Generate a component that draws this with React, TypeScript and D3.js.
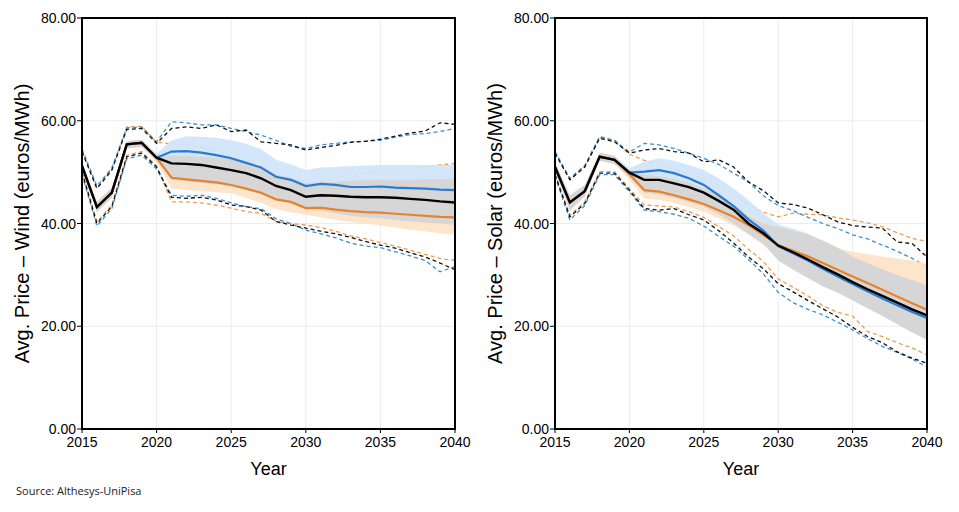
import React from "react";
import * as d3 from "d3";

// Years on the x axis (annual points)
const years = [
  2015, 2016, 2017, 2018, 2019, 2020, 2021, 2022, 2023, 2024, 2025, 2026, 2027,
  2028, 2029, 2030, 2031, 2032, 2033, 2034, 2035, 2036, 2037, 2038, 2039, 2040,
];
const yearTicks = [2015, 2020, 2025, 2030, 2035, 2040];
const valueTicks = [0, 20, 40, 60, 80];

// ---- Wind ----
const windBase = [51.2, 43.2, 46.0, 55.4, 55.7, 52.8, 51.7, 51.6, 51.4, 50.9, 50.4, 49.8, 48.8, 47.3, 46.5, 45.2, 45.5, 45.4, 45.2, 45.1, 45.1, 45.0, 44.8, 44.6, 44.3, 44.1];
const windHigh = [51.2, 43.2, 46.0, 55.4, 55.7, 52.8, 54.0, 54.1, 53.8, 53.3, 52.7, 51.8, 50.9, 49.1, 48.5, 47.3, 47.7, 47.5, 47.1, 47.1, 47.2, 47.0, 46.9, 46.8, 46.6, 46.5];
const windLow = [51.2, 43.2, 46.0, 55.4, 55.7, 52.8, 48.9, 48.6, 48.3, 48.0, 47.5, 46.8, 46.0, 44.7, 44.2, 43.0, 43.1, 42.7, 42.4, 42.2, 42.1, 41.9, 41.7, 41.5, 41.3, 41.2];

const windBaseLo = [50.4, 42.2, 45.0, 54.6, 54.9, 52.2, 48.5, 48.2, 47.9, 47.6, 47.3, 46.6, 45.7, 44.7, 44.0, 42.8, 42.5, 42.0, 41.5, 41.2, 41.0, 40.7, 40.4, 40.2, 40.0, 39.7];
const windBaseHi = [52.0, 44.3, 47.0, 56.0, 56.3, 53.4, 53.2, 53.2, 53.0, 52.8, 52.5, 51.8, 51.0, 49.5, 49.0, 47.8, 48.0, 48.1, 48.3, 48.4, 48.5, 48.5, 48.5, 48.6, 48.6, 48.6];
const windHighLo = [50.6, 42.5, 45.3, 54.8, 55.1, 52.3, 51.5, 51.6, 51.3, 50.8, 50.2, 49.3, 48.4, 46.6, 46.0, 44.8, 45.2, 45.0, 44.6, 44.6, 44.7, 44.5, 44.4, 44.3, 44.1, 44.0];
const windHighHi = [51.8, 44.0, 46.7, 56.0, 56.3, 53.6, 56.2, 57.0, 56.9, 56.7, 56.2, 55.5, 54.5, 52.4, 51.5, 50.4, 50.9, 51.0, 51.2, 51.3, 51.4, 51.4, 51.4, 51.4, 51.4, 51.4];
const windLowLo = [50.6, 42.5, 45.3, 54.8, 55.1, 52.0, 46.8, 46.5, 46.3, 46.1, 45.9, 45.0, 44.0, 42.8, 42.2, 41.7, 41.2, 40.7, 40.3, 40.0, 39.6, 39.2, 38.8, 38.5, 38.1, 37.8];
const windLowHi = [51.8, 44.0, 46.7, 56.0, 56.3, 53.5, 50.5, 50.2, 49.9, 49.6, 49.1, 48.4, 47.6, 46.3, 45.8, 44.6, 44.8, 44.5, 44.3, 44.2, 44.2, 44.1, 44.0, 43.9, 43.8, 43.7];

const windBaseUp = [54.0, 46.8, 50.4, 58.3, 58.5, 55.6, 58.5, 58.8, 58.5, 59.2, 57.9, 58.2, 55.9, 55.6, 55.3, 54.3, 54.8, 55.2, 55.8, 56.0, 56.4, 57.0, 57.6, 58.0, 59.6, 59.3];
const windHighUp = [54.5, 47.3, 50.8, 58.6, 58.8, 55.9, 59.8, 59.6, 59.2, 59.2, 58.5, 57.9, 57.2, 56.2, 55.0, 54.6, 55.3, 55.6, 55.9, 56.0, 56.2, 56.8, 57.3, 57.5, 57.9, 58.5];
const windLowUp = [54.2, 47.0, 50.6, 58.8, 58.9, 55.8, 55.5, 55.3, 54.8, 54.0, 53.0, 52.0, 50.8, 49.5, 48.8, 47.8, 48.2, 48.9, 49.6, 49.9, 50.1, 50.4, 50.7, 51.0, 51.4, 51.7];
const windBaseDn = [50.0, 40.0, 43.3, 53.0, 53.7, 51.0, 45.1, 44.9, 45.1, 44.6, 43.6, 43.3, 42.6, 40.4, 39.7, 39.1, 38.5, 38.0, 37.3, 36.5, 35.8, 35.2, 34.3, 33.5, 32.3, 31.0];
const windHighDn = [49.6, 39.5, 42.9, 52.6, 53.3, 50.6, 45.5, 45.3, 45.5, 44.9, 44.0, 43.3, 42.9, 40.9, 40.0, 38.7, 38.0, 37.2, 36.2, 35.6, 35.3, 34.5, 33.7, 32.8, 30.6, 31.6];
const windLowDn = [50.2, 40.3, 43.6, 53.3, 54.0, 51.2, 44.2, 44.2, 44.0, 43.6, 43.0, 42.3, 42.0, 40.4, 40.0, 39.7, 39.2, 38.5, 37.6, 37.0, 36.3, 35.6, 34.8, 34.0, 33.2, 32.8];

// ---- Solar ----
const solarBase = [51.0, 44.1, 46.3, 53.0, 52.4, 49.9, 48.5, 48.5, 47.8, 47.1, 46.0, 44.4, 42.7, 40.0, 38.1, 35.7, 34.4, 33.0, 31.5, 30.1, 28.6, 27.2, 25.9, 24.6, 23.3, 22.1];
const solarHigh = [51.0, 44.1, 46.3, 53.0, 52.4, 49.9, 50.1, 50.4, 49.8, 48.8, 47.5, 45.5, 43.4, 40.8, 38.6, 35.6, 34.2, 32.8, 31.2, 29.7, 28.2, 26.8, 25.4, 24.1, 22.8, 21.6];
const solarLow = [51.0, 44.1, 46.3, 53.0, 52.4, 49.6, 46.5, 46.2, 45.5, 44.7, 43.8, 42.6, 41.3, 39.7, 37.8, 35.8, 34.7, 33.6, 32.3, 31.0, 29.7, 28.4, 27.1, 25.8, 24.5, 23.2];

const solarBaseLo = [50.2, 42.5, 45.3, 52.2, 51.6, 49.0, 46.0, 45.7, 45.0, 44.2, 43.3, 41.8, 40.0, 38.0, 36.1, 32.8, 31.0, 29.4, 27.8, 26.5, 25.0, 23.5, 22.0, 20.4, 18.8, 17.3];
const solarBaseHi = [52.0, 45.5, 47.5, 53.8, 53.2, 50.4, 49.5, 49.2, 48.7, 48.0, 46.8, 45.5, 43.8, 41.5, 40.0, 39.3, 38.6, 37.9, 36.7, 35.3, 33.6, 32.3, 31.1, 30.0, 29.0, 28.0];
const solarHighLo = [50.4, 42.8, 45.5, 52.4, 51.8, 49.2, 48.5, 48.6, 47.9, 46.8, 45.4, 43.3, 41.2, 38.6, 36.4, 33.4, 32.0, 30.6, 29.0, 27.5, 26.0, 24.6, 23.2, 21.9, 20.6, 19.4];
const solarHighHi = [51.6, 45.2, 47.2, 53.6, 53.0, 50.8, 52.0, 52.7, 52.2, 51.4, 50.4, 48.8, 46.8, 44.6, 42.0, 39.8, 39.0, 38.0, 36.5, 35.0, 33.4, 32.0, 30.6, 29.3, 28.0, 26.8];
const solarLowLo = [50.4, 42.8, 45.5, 52.4, 51.8, 48.5, 44.8, 44.6, 44.0, 43.2, 42.3, 41.0, 39.6, 37.8, 35.8, 33.5, 32.0, 30.5, 29.0, 27.6, 26.2, 24.8, 23.4, 22.0, 20.6, 19.2];
const solarLowHi = [51.6, 45.2, 47.2, 53.6, 53.0, 50.0, 48.0, 47.8, 47.3, 46.6, 45.8, 44.7, 43.5, 41.8, 40.2, 38.5, 37.6, 36.8, 36.0, 35.2, 34.5, 34.0, 33.6, 33.2, 32.8, 32.3];

const solarBaseUp = [53.7, 48.5, 51.0, 56.6, 55.9, 53.7, 54.3, 54.6, 54.0, 53.7, 52.0, 52.4, 51.0, 48.1, 46.4, 44.0, 43.7, 43.0, 41.7, 40.3, 39.6, 39.3, 39.1, 36.4, 36.1, 33.5];
const solarHighUp = [54.0, 48.8, 51.3, 56.9, 56.2, 53.9, 55.6, 55.3, 54.6, 53.7, 52.7, 51.5, 49.8, 48.1, 45.4, 43.5, 42.5, 41.2, 40.0, 39.0, 37.8, 37.0, 35.8, 34.6, 33.2, 31.6];
const solarLowUp = [53.9, 48.6, 51.1, 56.8, 56.1, 53.5, 52.3, 51.4, 50.6, 49.6, 48.6, 47.5, 45.8, 43.6, 42.2, 41.3, 42.0, 41.8, 41.7, 41.1, 40.7, 40.1, 39.4, 38.2, 37.1, 36.5];
const solarBaseDn = [49.5, 41.3, 43.9, 49.8, 49.8, 46.5, 42.9, 42.6, 42.9, 41.7, 40.7, 38.6, 36.2, 33.5, 31.2, 28.3, 26.7, 25.0, 23.4, 21.8, 19.8, 18.0, 16.8, 15.0, 13.8, 12.8];
const solarHighDn = [49.2, 40.7, 43.5, 49.5, 49.5, 46.2, 42.6, 42.3, 41.8, 41.0, 39.5, 37.5, 35.6, 33.0, 30.2, 26.6, 24.6, 23.3, 22.2, 20.8, 19.3, 17.6, 16.1, 14.9, 13.6, 12.1];
const solarLowDn = [49.7, 41.6, 44.2, 50.1, 50.1, 46.8, 43.6, 43.4, 43.2, 42.3, 41.2, 39.4, 37.6, 35.0, 32.6, 29.2, 27.6, 25.9, 24.0, 22.7, 22.0, 19.0, 18.0, 16.8, 15.8, 14.4];

const BLUE = "#2a7bd0";
const ORANGE = "#e8832c";
const FONT = "'Liberation Sans', Arial, sans-serif";

interface PanelData {
  base: number[];
  high: number[];
  low: number[];
  baseBand: [number[], number[]];
  highBand: [number[], number[]];
  lowBand: [number[], number[]];
  dashed: { values: number[]; color: string }[];
}

const windData: PanelData = {
  base: windBase,
  high: windHigh,
  low: windLow,
  baseBand: [windBaseLo, windBaseHi],
  highBand: [windHighLo, windHighHi],
  lowBand: [windLowLo, windLowHi],
  dashed: [
    { values: windLowUp, color: "#ee9d4e" },
    { values: windLowDn, color: "#ee9d4e" },
    { values: windHighUp, color: "#3b8fd3" },
    { values: windHighDn, color: "#3b8fd3" },
    { values: windBaseUp, color: "#111" },
    { values: windBaseDn, color: "#111" },
  ],
};

const solarData: PanelData = {
  base: solarBase,
  high: solarHigh,
  low: solarLow,
  baseBand: [solarBaseLo, solarBaseHi],
  highBand: [solarHighLo, solarHighHi],
  lowBand: [solarLowLo, solarLowHi],
  dashed: [
    { values: solarLowUp, color: "#ee9d4e" },
    { values: solarLowDn, color: "#ee9d4e" },
    { values: solarHighUp, color: "#3b8fd3" },
    { values: solarHighDn, color: "#3b8fd3" },
    { values: solarBaseUp, color: "#111" },
    { values: solarBaseDn, color: "#111" },
  ],
};

const top = 18;
const bottom = 429;

const Panel: React.FC<{ x0: number; x1: number; label: string; data: PanelData }> = ({
  x0,
  x1,
  label,
  data,
}) => {
  const x = d3.scaleLinear().domain([2015, 2040]).range([x0, x1]);
  const y = d3.scaleLinear().domain([0, 80]).range([bottom, top]);

  const line = d3
    .line<number>()
    .x((_, i) => x(years[i]))
    .y((d) => y(d));

  const band = ([lo, hi]: [number[], number[]]) =>
    d3
      .area<number>()
      .x((_, i) => x(years[i]))
      .y0((_, i) => y(lo[i]))
      .y1((_, i) => y(hi[i]))(lo) as string;

  const fmt = d3.format(".2f");

  return (
    <g>
      {/* grid */}
      {valueTicks.map((v) => (
        <line key={"gy" + v} x1={x0} x2={x1} y1={y(v)} y2={y(v)} stroke="#ececec" strokeWidth={1} />
      ))}
      {yearTicks.map((t) => (
        <line key={"gx" + t} x1={x(t)} x2={x(t)} y1={top} y2={bottom} stroke="#ececec" strokeWidth={1} />
      ))}

      {/* outer range dashed lines */}
      {data.dashed.map((d, i) => (
        <path
          key={"d" + i}
          d={line(d.values) as string}
          fill="none"
          stroke={d.color}
          strokeWidth={1.3}
          strokeDasharray="4 3"
        />
      ))}

      {/* bands */}
      <path d={band(data.highBand)} fill="#cfe4f9" fillOpacity={0.9} />
      <path d={band(data.lowBand)} fill="#fde2c6" fillOpacity={0.9} />
      <path d={band(data.baseBand)} fill="#d6d6d6" />

      {/* central lines */}
      <path d={line(data.high) as string} fill="none" stroke={BLUE} strokeWidth={2.2} />
      <path d={line(data.low) as string} fill="none" stroke={ORANGE} strokeWidth={2.2} />
      <path d={line(data.base) as string} fill="none" stroke="#000" strokeWidth={2.4} />

      {/* frame */}
      <rect x={x0} y={top} width={x1 - x0} height={bottom - top} fill="none" stroke="#000" strokeWidth={2} />

      {/* y axis */}
      {valueTicks.map((v) => (
        <g key={"ty" + v}>
          <line x1={x0 - 5} x2={x0} y1={y(v)} y2={y(v)} stroke="#000" strokeWidth={1} />
          <text
            x={x0 - 6}
            y={y(v)}
            textAnchor="end"
            dominantBaseline="central"
            fontFamily={FONT}
            fontSize={14}
            fill="#000"
          >
            {fmt(v)}
          </text>
        </g>
      ))}
      {/* x axis */}
      {yearTicks.map((t) => (
        <g key={"tx" + t}>
          <line x1={x(t)} x2={x(t)} y1={bottom} y2={bottom + 4} stroke="#000" strokeWidth={1} />
          <text x={x(t)} y={447} textAnchor="middle" fontFamily={FONT} fontSize={14} fill="#000">
            {t}
          </text>
        </g>
      ))}
      <text x={(x0 + x1) / 2} y={475} textAnchor="middle" fontFamily={FONT} fontSize={18} fill="#000">
        Year
      </text>
      <text
        transform={`translate(${x0 - 53},${(top + bottom) / 2}) rotate(-90)`}
        textAnchor="middle"
        fontFamily={FONT}
        fontSize={20}
        fill="#000"
      >
        {label}
      </text>
    </g>
  );
};

export default function App() {
  return (
    <svg
      width={959}
      height={512}
      style={{ position: "absolute", left: 0, top: 0, background: "#fff" }}
    >
      <rect width={959} height={512} fill="#fff" />
      <Panel x0={82} x1={455} label="Avg. Price – Wind (euros/MWh)" data={windData} />
      <Panel x0={555} x1={927} label="Avg. Price – Solar (euros/MWh)" data={solarData} />
      <text x={16} y={495} fontFamily="'Open Sans', sans-serif" fontSize={11} fill="#222">
        Source: Althesys-UniPisa
      </text>
    </svg>
  );
}
